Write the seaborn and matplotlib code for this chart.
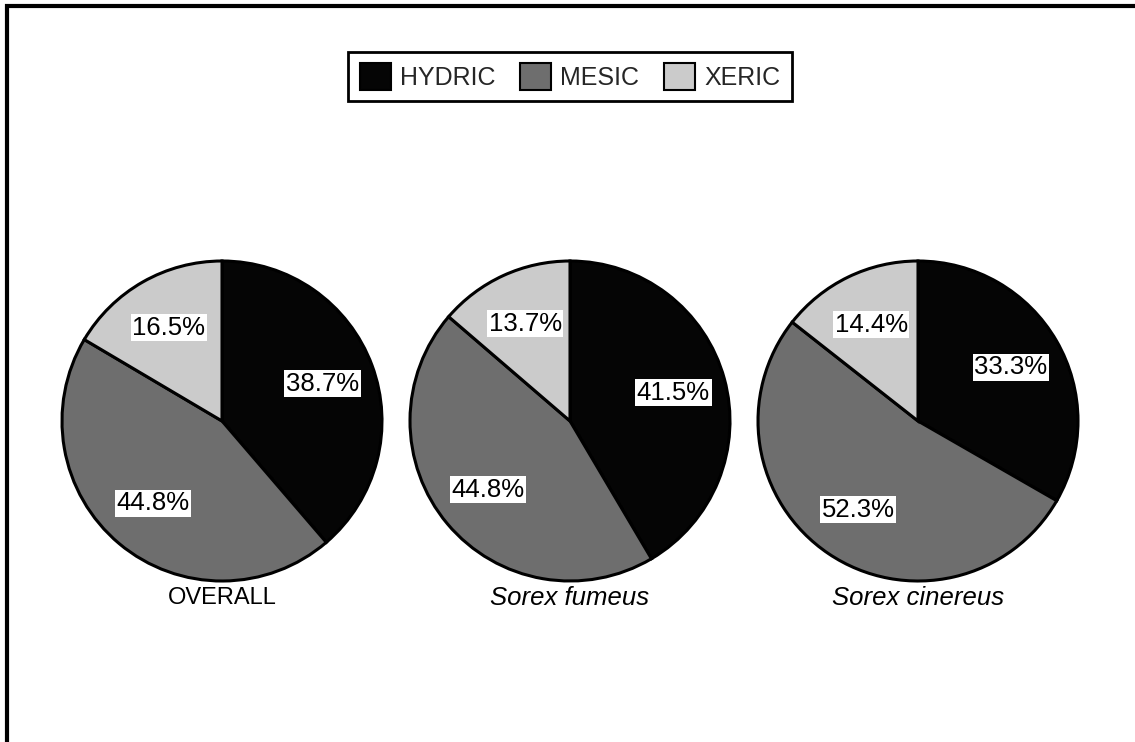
import matplotlib
matplotlib.use("Agg")
import matplotlib.pyplot as plt
from matplotlib.patches import Patch, Rectangle
import seaborn as sns

# Habitat categories and share of captures (%) per group
habitats = ["HYDRIC", "MESIC", "XERIC"]
groups = ["OVERALL", "Sorex fumeus", "Sorex cinereus"]
overall = [38.7, 44.8, 16.5]
sorex_fumeus = [41.5, 44.8, 13.7]
sorex_cinereus = [33.3, 52.3, 14.4]
group_values = [overall, sorex_fumeus, sorex_cinereus]
group_italic = [False, True, True]

sns.set_theme(style="white")
plt.rcParams["font.family"] = ["Liberation Sans", "DejaVu Sans"]

fill_colors = ["#050505", "#6e6e6e", "#cbcbcb"]

W, H = 1135, 742
fig = plt.figure(figsize=(W / 100, H / 100), dpi=100)
fig.patch.set_facecolor("white")

radius_px = 160
pad = 1.04
size_px = 2 * radius_px * pad
centers_x = [222, 570, 918]
center_y = 421

for cx, name, vals, ital in zip(centers_x, groups, group_values, group_italic):
    ax = fig.add_axes([(cx - size_px / 2) / W, (H - center_y - size_px / 2) / H,
                       size_px / W, size_px / H])
    wedges, texts, autotexts = ax.pie(
        vals, colors=fill_colors, startangle=90, counterclock=False,
        autopct="%.1f%%", pctdistance=0.67,
        wedgeprops=dict(edgecolor="black", linewidth=2.2),
        textprops=dict(fontsize=18.5, color="black"),
    )
    for t in autotexts:
        t.set_bbox(dict(facecolor="white", edgecolor="none", pad=1.2))
    ax.set_xlim(-pad, pad)
    ax.set_ylim(-pad, pad)
    ax.set_aspect("equal")
    ax.axis("off")
    ax.text(0, -1.105, name, ha="center", va="center",
            fontsize=18.5 if ital else 17,
            style="italic" if ital else "normal", color="black")

handles = [Patch(facecolor=c, edgecolor="black", linewidth=1.5) for c in fill_colors]
leg = fig.legend(handles, habitats, loc="upper center", ncol=3,
                 bbox_to_anchor=(570 / W, 1 - 52 / H), fontsize=18,
                 frameon=True, fancybox=False, framealpha=1, edgecolor="black",
                 handlelength=1.25, handleheight=1.25, handletextpad=0.35,
                 columnspacing=1.0, borderpad=0.45, borderaxespad=0)
leg.get_frame().set_linewidth(2)

# Outer border of the figure panel
fig.patches.append(Rectangle((7 / W, -0.05), 1.2, 1 - 6 / H + 0.05,
                             transform=fig.transFigure, fill=False,
                             edgecolor="black", linewidth=3))

fig.savefig("out.png", dpi=100, facecolor="white")
